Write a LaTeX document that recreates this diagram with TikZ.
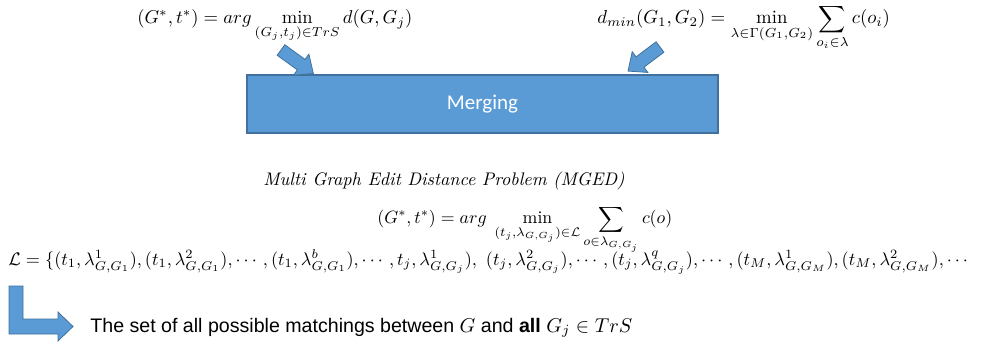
\documentclass[tikz,border=0pt]{standalone}
\usepackage{amsmath}
\usepackage{fontspec}
\newfontfamily\calibrifont{Carlito}
\newfontfamily\arialfont{Liberation Sans}
\definecolor{boxblue}{HTML}{5B9BD5}
\definecolor{boxedge}{HTML}{41719C}
\tikzset{
  formula/.style={inner sep=0pt, anchor=base west},
  mergebox/.style={draw=boxedge, line width=0.6pt, fill=boxblue, inner sep=0pt,
    text=white, font=\calibrifont\fontsize{10.5}{12}\selectfont},
  blockarrow/.style={draw=boxedge, line width=0.4pt, fill=boxblue, line join=miter},
  caption/.style={inner sep=0pt, anchor=base west, font=\arialfont\fontsize{9.8}{12}\selectfont}
}
\begin{document}
\begin{tikzpicture}[x=0.5pt,y=-0.5pt]
\useasboundingbox (0,0) rectangle (981,342);

% the two objective functions feeding the merge step
\node[formula, scale=0.93] (objective) at (137,24)
  {$\displaystyle (G^*,t^*) = arg \min_{(G_j,t_j)\in TrS} d(G,G_j)$};
\node[formula, scale=0.94] (dmin) at (597,24)
  {$\displaystyle d_{min}(G_1,G_2) = \min_{\lambda\in\Gamma(G_1,G_2)} \sum_{o_i\in\lambda} c(o_i)$};

% merge step
\node[mergebox, minimum width=235.5pt, minimum height=29pt] (merge) at (482.5,104) {Merging};

% block arrows pointing into the merge box
\filldraw[blockarrow, shift={(281,50)}, rotate=-36]
  (0,-6.5) -- (25,-6.5) -- (25,-13) -- (40,0) -- (25,13) -- (25,6.5) -- (0,6.5) -- cycle;
\filldraw[blockarrow, shift={(660,47)}, rotate=-143]
  (0,-6.5) -- (25,-6.5) -- (25,-13) -- (40,0) -- (25,13) -- (25,6.5) -- (0,6.5) -- cycle;

% merged problem
\node[formula, scale=0.91] (title) at (263,186)
  {\textit{Multi Graph Edit Distance Problem (MGED)}};
\node[formula, scale=0.89] (mged) at (377,224)
  {$\displaystyle (G^*,t^*) = arg\; \min_{(t_j,\lambda_{G,G_j})\in\mathcal{L}} \sum_{o\in\lambda_{G,G_j}} c(o)$};

% the set of matchings
\node[formula, scale=0.91] (set) at (8,265)
  {$\mathcal{L} = \{(t_1,\lambda^1_{G,G_1}),(t_1,\lambda^2_{G,G_1}),\cdots,(t_1,\lambda^b_{G,G_1}),\cdots,t_j,\lambda^1_{G,G_j}),\ (t_j,\lambda^2_{G,G_j}),\cdots,(t_j,\lambda^q_{G,G_j}),\cdots,(t_M,\lambda^1_{G,G_M}),(t_M,\lambda^2_{G,G_M}),\cdots$};

% bent arrow to its description
\filldraw[blockarrow]
  (9,286) -- (23,286) -- (23,319) -- (58,319) -- (58,312) -- (73,326.5)
  -- (58,341) -- (58,334) -- (9,334) -- cycle;
\node[caption] (desc) at (90,332)
  {The set of all possible matchings between $G$ and \textbf{all} $G_j \in TrS$};
\end{tikzpicture}
\end{document}
